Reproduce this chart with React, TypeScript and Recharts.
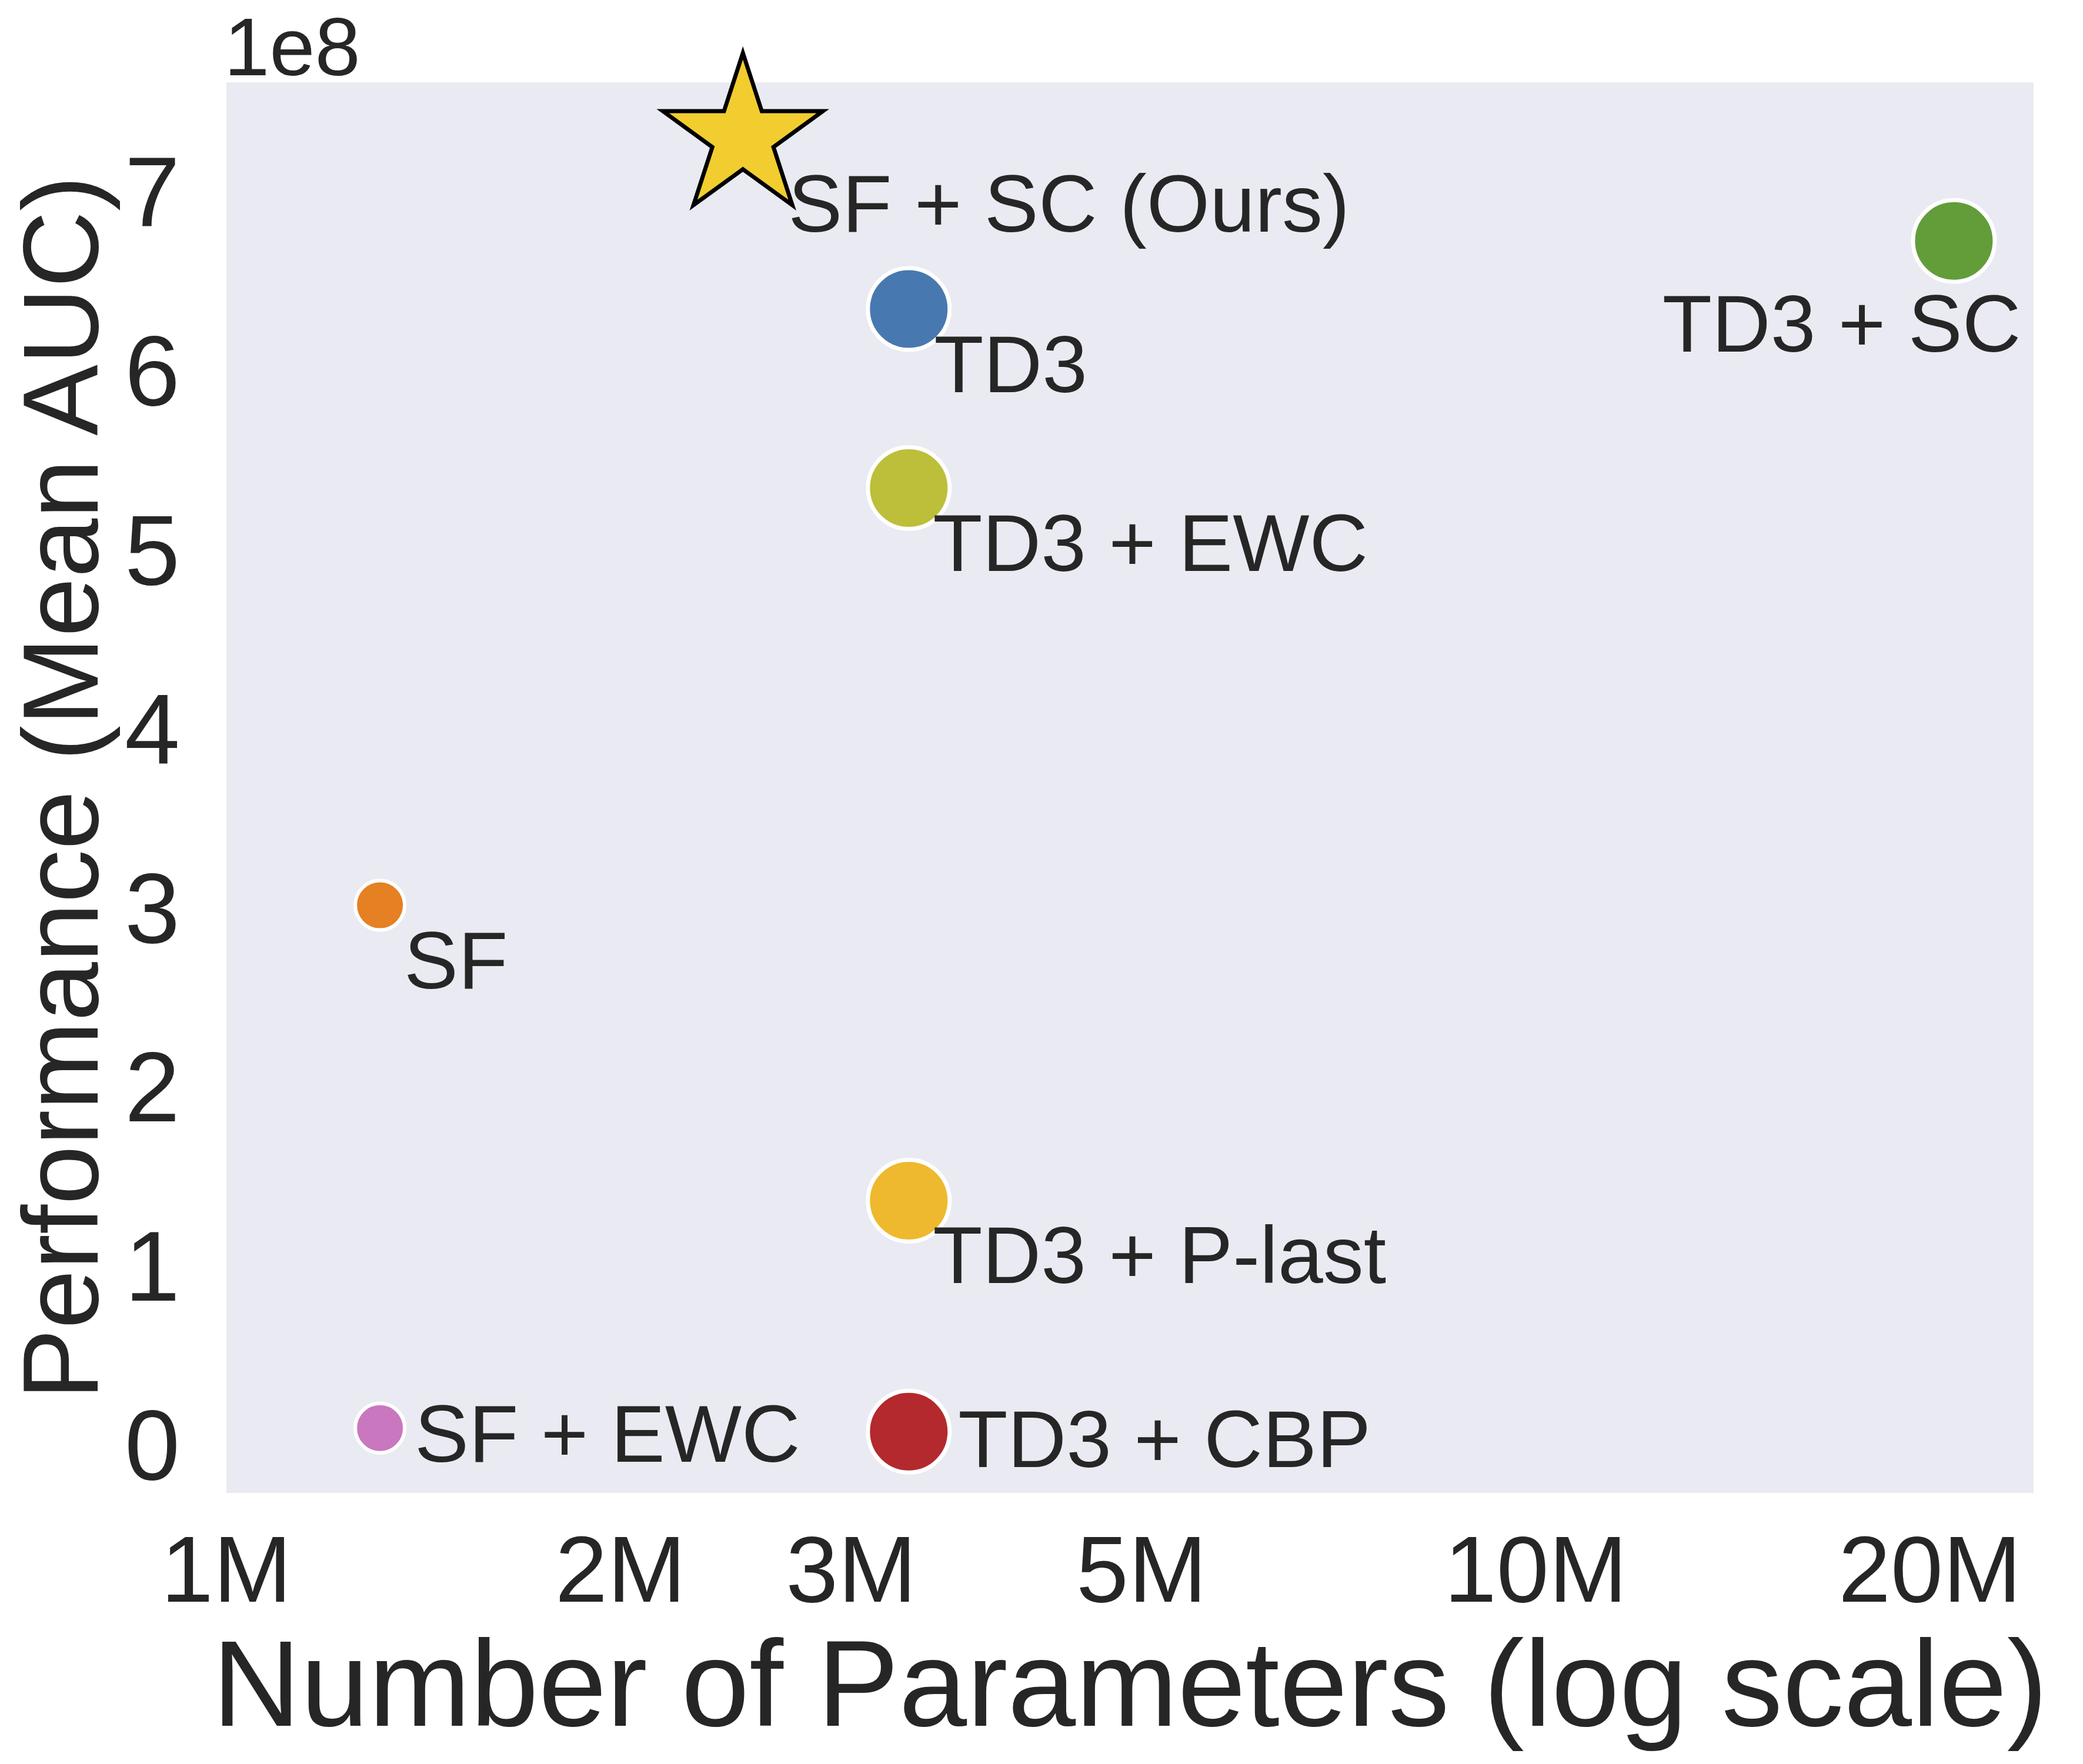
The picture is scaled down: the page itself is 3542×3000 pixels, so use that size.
import { ScatterChart, Scatter, XAxis, YAxis, CartesianGrid } from 'recharts'

const methods = ['SF + SC (Ours)', 'TD3', 'TD3 + SC', 'TD3 + EWC', 'SF', 'TD3 + P-last', 'SF + EWC', 'TD3 + CBP']
const paramCounts = [2.48e6, 3.32e6, 2.086e7, 3.32e6, 1.31e6, 3.32e6, 1.31e6, 3.32e6]
const meanAuc = [7.3e8, 6.34e8, 6.72e8, 5.34e8, 3.01e8, 1.36e8, 0.09e8, 0.07e8]

const xTicks = [1e6, 2e6, 3e6, 5e6, 1e7, 2e7]
const xTickLabels = ['1M', '2M', '3M', '5M', '10M', '20M']
const yTicks = [0, 1e8, 2e8, 3e8, 4e8, 5e8, 6e8, 7e8]

// styling per point (same order as methods)
const colors = ['#F2CD30', '#4878B0', '#629D3A', '#BDBE3A', '#E58023', '#EEB92E', '#C977BE', '#B3292D']
const radius = [143, 69.5, 69.5, 69.5, 42, 69.5, 42, 69.5]
const labelDx = [77, 43, 114, 41, 41, 41, 59, 84]
const labelDy = [161, 141, 188, 141, 141, 140, 57, 60]
const labelAnchor = ['start', 'start', 'end', 'start', 'start', 'start', 'start', 'start']

const points = methods.map((name, i) => ({ name, params: paramCounts[i], auc: meanAuc[i], idx: i }))

const FONT = '"Liberation Sans", Arial, Helvetica, sans-serif'
const INK = '#262626'

function MarkerShape(props: any) {
  const { cx, cy, payload } = props
  const i = payload.idx
  const r = radius[i]
  let mark
  if (i === 0) {
    const pts = []
    for (let k = 0; k < 10; k++) {
      const a = ((-90 + k * 36) * Math.PI) / 180
      const rr = k % 2 === 0 ? r : r * 0.382
      pts.push(`${cx + rr * Math.cos(a)},${cy + rr * Math.sin(a)}`)
    }
    mark = <polygon points={pts.join(' ')} fill={colors[i]} stroke="#000" strokeWidth={7} strokeLinejoin="miter" />
  } else {
    const sw = r > 50 ? 7 : 6
    mark = <circle cx={cx} cy={cy} r={r} fill={colors[i]} stroke="#fff" strokeWidth={sw} />
  }
  return (
    <g>
      {mark}
      <text
        x={cx + labelDx[i]}
        y={cy + labelDy[i]}
        textAnchor={labelAnchor[i]}
        fontSize={138}
        fontFamily={FONT}
        fill={INK}
      >
        {payload.name}
      </text>
    </g>
  )
}

function XTick(props: any) {
  const { x, y, payload } = props
  const k = xTicks.indexOf(payload.value)
  return (
    <text x={x} y={y + 185} textAnchor="middle" fontSize={160} fontFamily={FONT} fill={INK}>
      {k >= 0 ? xTickLabels[k] : ''}
    </text>
  )
}

function YTick(props: any) {
  const { x, y, payload } = props
  return (
    <text x={x - 79} y={y + 60} textAnchor="end" fontSize={169} fontFamily={FONT} fill={INK}>
      {Math.round(payload.value / 1e8)}
    </text>
  )
}

function XTitle(props: any) {
  const { x, y, width } = props.viewBox
  return (
    <text x={x + width / 2} y={y + 396} textAnchor="middle" fontSize={208} fontFamily={FONT} fill={INK}>
      Number of Parameters (log scale)
    </text>
  )
}

function YTitle(props: any) {
  const { y, height } = props.viewBox
  const cy = y + height / 2
  const bx = 166
  return (
    <g>
      <text
        x={bx}
        y={cy}
        transform={`rotate(-90, ${bx}, ${cy})`}
        textAnchor="middle"
        fontSize={181}
        fontFamily={FONT}
        fill={INK}
      >
        Performance (Mean AUC)
      </text>
      <text x={381} y={128} fontSize={139} fontFamily={FONT} fill={INK}>
        1e8
      </text>
    </g>
  )
}

export default function App() {
  return (
    <div style={{ width: 3542, height: 3000, background: '#fff' }}>
      <style>{'body{margin:0}'}</style>
      <ScatterChart width={3542} height={3000} margin={{ top: 140, right: 84, left: 0, bottom: 0 }}>
        <CartesianGrid fill="#EAEAF2" stroke="none" horizontal={false} vertical={false} />
        <XAxis
          type="number"
          dataKey="params"
          scale="log"
          domain={[1e6, 2.4e7]}
          ticks={xTicks}
          height={461}
          axisLine={false}
          tickLine={false}
          tickSize={0}
          tickMargin={0}
          tick={<XTick />}
          interval={0}
          label={<XTitle />}
        />
        <YAxis
          type="number"
          dataKey="auc"
          domain={[-0.272e8, 7.606e8]}
          ticks={yTicks}
          width={385}
          axisLine={false}
          tickLine={false}
          tickSize={0}
          tickMargin={0}
          tick={<YTick />}
          interval={0}
          label={<YTitle />}
        />
        <Scatter data={points} shape={MarkerShape} isAnimationActive={false} />
      </ScatterChart>
    </div>
  )
}
